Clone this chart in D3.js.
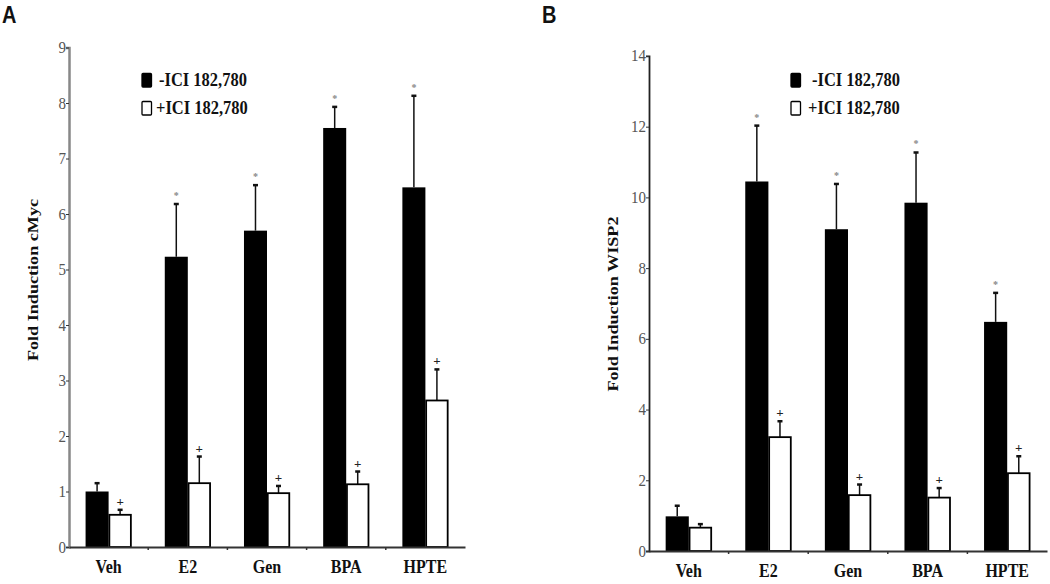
<!DOCTYPE html>
<html><head><meta charset="utf-8">
<script src="https://cdn.jsdelivr.net/npm/d3@7"></script>
<style>body{margin:0;background:#fff}svg{display:block}</style>
</head><body>
<svg id="c" width="1050" height="584"></svg>
<script>
const categories = ["Veh","E2","Gen","BPA","HPTE"];
const series = ["-ICI 182,780","+ICI 182,780"];
// Panel A: cMyc
const cmycMinus = [1.0, 5.23, 5.7, 7.55, 6.48];
const cmycMinusErr = [0.15, 0.95, 0.82, 0.38, 1.65];
const cmycPlus = [0.58, 1.15, 0.97, 1.13, 2.64];
const cmycPlusErr = [0.09, 0.48, 0.13, 0.23, 0.56];
const cmycMinusMarks = ["","*","*","*","*"];
const cmycPlusMarks = ["+","+","+","+","+"];
const cmycTicks = [0,1,2,3,4,5,6,7,8,9];
// Panel B: WISP2
const wispMinus = [0.98, 10.45, 9.1, 9.85, 6.48];
const wispMinusErr = [0.3, 1.58, 1.28, 1.42, 0.82];
const wispPlus = [0.66, 3.22, 1.58, 1.51, 2.2];
const wispPlusErr = [0.1, 0.45, 0.3, 0.27, 0.48];
const wispMinusMarks = ["","*","*","*","*"];
const wispPlusMarks = ["","+","+","+","+"];
const wispTicks = [0,2,4,6,8,10,12,14];

const svg = d3.select("#c");
const serif = "'Liberation Serif','Times New Roman',serif";
const SY = 1.17; // vertical stretch of the original figure's lettering

function txt(g, x, y, str, size, o={}){
  return g.append("text")
    .attr("transform",`translate(${x},${y}) scale(1,${SY})${o.rot?" rotate(-90)":""}`)
    .attr("text-anchor",o.anchor||"start").attr("font-family",o.family||serif)
    .attr("font-size",size).attr("font-weight",o.weight||"normal").attr("fill",o.fill||"#111")
    .text(str);
}

function panel(o){
  const g = svg.append("g");
  const y = d3.scaleLinear().domain([0,o.ymax]).range([o.y0,o.y1]);
  const x0 = d3.scaleBand().domain(categories).range([o.xl,o.xr]);
  const x1 = d3.scaleBand().domain(series).range([0,x0.bandwidth()]).paddingInner(0).paddingOuter(0.72);
  const data = categories.map((c,i)=>({c, vals:[
    {s:series[0], v:o.minus[i], e:o.minusErr[i], mark:o.minusMarks[i]},
    {s:series[1], v:o.plus[i], e:o.plusErr[i], mark:o.plusMarks[i]}]}));
  const grp = g.selectAll("g.cat").data(data).join("g").attr("transform",d=>`translate(${x0(d.c)},0)`);
  const items = grp.selectAll("g.b").data(d=>d.vals).join("g");
  const cx = d=>x1(d.s)+x1.bandwidth()/2;
  items.append("line")
    .attr("x1",cx).attr("x2",cx)
    .attr("y1",d=>y(d.v)).attr("y2",d=>y(d.v+d.e)).attr("stroke","#111").attr("stroke-width",1.5);
  items.append("line")
    .attr("x1",d=>cx(d)-2.5).attr("x2",d=>cx(d)+2.5)
    .attr("y1",d=>y(d.v+d.e)).attr("y2",d=>y(d.v+d.e)).attr("stroke","#111").attr("stroke-width",2.5);
  items.append("rect")
    .attr("x",(d,i)=>x1(d.s)+(i?0.75:0)).attr("width",(d,i)=>x1.bandwidth()-(i?1.5:0))
    .attr("y",d=>y(d.v)).attr("height",d=>y(0)-y(d.v))
    .attr("fill",(d,i)=>i?"#fff":"#000").attr("stroke","#000").attr("stroke-width",(d,i)=>i?1.8:0);
  items.append("text")
    .attr("x",cx).attr("y",(d,i)=>y(d.v+d.e)-(i?4:5))
    .attr("text-anchor","middle").attr("font-family",serif)
    .attr("font-size",(d,i)=>i?13:10).attr("font-weight","bold")
    .attr("fill",(d,i)=>i?"#222":"#888")
    .text(d=>d.mark);
  const ya = g.append("g").attr("transform",`translate(${o.xl},0)`)
    .call(d3.axisLeft(y).tickValues(o.ticks).tickSize(3).tickFormat(""));
  ya.select(".domain").attr("stroke",o.axisColor).attr("stroke-width",o.axisW);
  ya.selectAll(".tick line").attr("stroke","#333");
  o.ticks.forEach(t=>txt(g, o.xl-3, y(t)+5.5, d3.format("d")(t), 15, {anchor:"end", fill:"#555"}));
  const xa = g.append("g").attr("transform",`translate(0,${o.y0})`)
    .call(d3.axisBottom(x0).tickSize(0).tickFormat(""));
  xa.select(".domain").attr("stroke","#333").attr("stroke-width",1.8);
  categories.forEach(c=>txt(g, x0(c)+x0.bandwidth()/2, o.y0+26, c, 16, {anchor:"middle", weight:"bold"}));
  g.selectAll("line.sep").data(categories.slice(1)).join("line")
    .attr("x1",d=>x0(d)).attr("x2",d=>x0(d)).attr("y1",o.y0).attr("y2",o.y0+3).attr("stroke","#333").attr("stroke-width",1.5);
  txt(g, o.labX, o.labY, o.ylabel, 15.5, {anchor:"middle", weight:"bold", rot:true});
  series.forEach((s,i)=>{
    const ly = o.legY + i*28;
    g.append("rect").attr("x",o.legX).attr("y",ly-12.5).attr("width",9.5).attr("height",13.5).attr("rx",1)
      .attr("fill",i?"#fff":"#000").attr("stroke","#000").attr("stroke-width",1.3);
    txt(g, o.legX+o.legTx[i], ly, s, 16.5, {weight:"bold"});
  });
  txt(g, o.px, 23, o.letter, 20, {weight:"bold", family:"'Liberation Sans',Arial,sans-serif"});
}

panel({minus:cmycMinus,minusErr:cmycMinusErr,plus:cmycPlus,plusErr:cmycPlusErr,
  minusMarks:cmycMinusMarks,plusMarks:cmycPlusMarks,
  ymax:9,ticks:cmycTicks,y0:547,y1:547-9*55.5,xl:69,xr:465,axisColor:"#888",axisW:2.5,
  ylabel:"Fold Induction cMyc",labX:38,labY:280,legX:142,legY:86,legTx:[17,14],letter:"A",px:2});
panel({minus:wispMinus,minusErr:wispMinusErr,plus:wispPlus,plusErr:wispPlusErr,
  minusMarks:wispMinusMarks,plusMarks:wispPlusMarks,
  ymax:14,ticks:wispTicks,y0:551,y1:551-14*35.36,xl:649,xr:1047,axisColor:"#222",axisW:1.8,
  ylabel:"Fold Induction WISP2",labX:618,labY:304,legX:791,legY:86,legTx:[21,17],letter:"B",px:542});
</script>
</body></html>
